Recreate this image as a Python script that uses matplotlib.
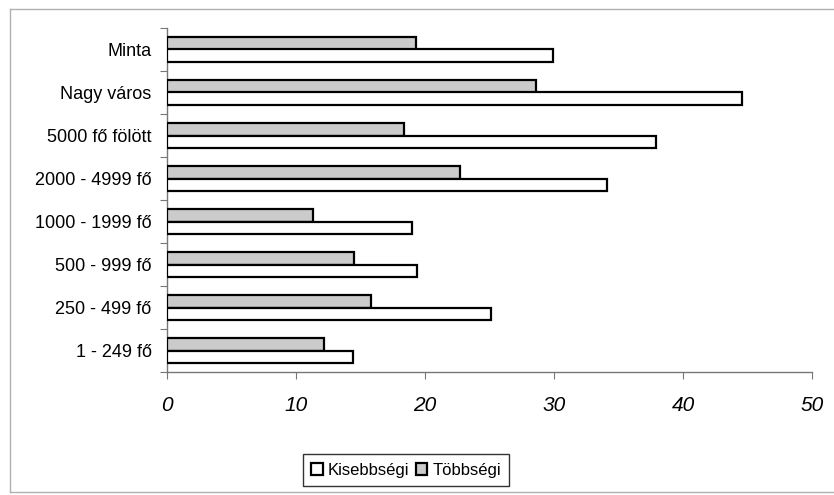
import matplotlib.pyplot as plt
from matplotlib.lines import Line2D
from matplotlib.patches import Patch
import numpy as np

# categories from bottom to top
categories = [
    "1 - 249 fő",
    "250 - 499 fő",
    "500 - 999 fő",
    "1000 - 1999 fő",
    "2000 - 4999 fő",
    "5000 fő fölött",
    "Nagy város",
    "Minta",
]
kisebbsegi = [14.4, 25.1, 19.4, 19.0, 34.1, 37.9, 44.6, 29.9]
tobbsegi = [12.2, 15.8, 14.5, 11.3, 22.7, 18.4, 28.6, 19.3]
x_ticks = [0, 10, 20, 30, 40, 50]

GREY = "#cbcbcb"
plt.rcParams["font.family"] = ["Liberation Sans", "DejaVu Sans"]

fig = plt.figure(figsize=(8.34, 4.95), dpi=100)
ax = fig.add_axes([167 / 834, 1 - 372 / 495, 645 / 834, 344 / 495])

y = np.arange(len(categories))
bar_h = 0.3
ax.barh(y + bar_h / 2, tobbsegi, height=bar_h, color=GREY,
        edgecolor="black", linewidth=1.6, zorder=3)
ax.barh(y - bar_h / 2, kisebbsegi, height=bar_h, color="white",
        edgecolor="black", linewidth=1.6, zorder=3)

ax.set_xlim(0, 50)
ax.set_ylim(-0.5, len(categories) - 0.5)

# x axis
ax.set_xticks(x_ticks)
ax.set_xticklabels([str(t) for t in x_ticks], fontsize=15, style="italic")
ax.tick_params(axis="x", length=5, color="#777777", pad=12)

# y axis: ticks at boundaries, labels at centers
ax.set_yticks(np.arange(-0.5, len(categories), 1))
ax.set_yticklabels([])
ax.set_yticks(y, minor=True)
ax.set_yticklabels(categories, minor=True, fontsize=13)
ax.tick_params(axis="y", which="major", length=5, color="#777777")
ax.tick_params(axis="y", which="minor", length=0, pad=11)

for side in ("top", "right"):
    ax.spines[side].set_visible(False)
for side in ("left", "bottom"):
    ax.spines[side].set_color("#777777")
    ax.spines[side].set_linewidth(1.0)

handles = [
    Patch(facecolor="white", edgecolor="black", linewidth=1.6, label="Kisebbségi"),
    Patch(facecolor=GREY, edgecolor="black", linewidth=1.6, label="Többségi"),
]
leg = fig.legend(handles=handles, loc="center", bbox_to_anchor=(406 / 834, 1 - 470 / 495),
                 ncol=2, fontsize=12, frameon=True, fancybox=False,
                 handlelength=0.7, handleheight=0.7, handletextpad=0.3,
                 columnspacing=0.4, borderpad=0.5)
leg.get_frame().set_edgecolor("black")
leg.get_frame().set_linewidth(1.0)

# faint outer chart border (left, top, bottom)
x0, x1 = 10 / 834, 1.0
y0, y1 = 1 - 492 / 495, 1 - 9 / 495
for xs, ys in (([x0, x1], [y1, y1]), ([x0, x0], [y0, y1]), ([x0, x1], [y0, y0])):
    fig.add_artist(Line2D(xs, ys, transform=fig.transFigure,
                          color="#b0b0b0", linewidth=1.0))

fig.savefig("out.png", dpi=100)
